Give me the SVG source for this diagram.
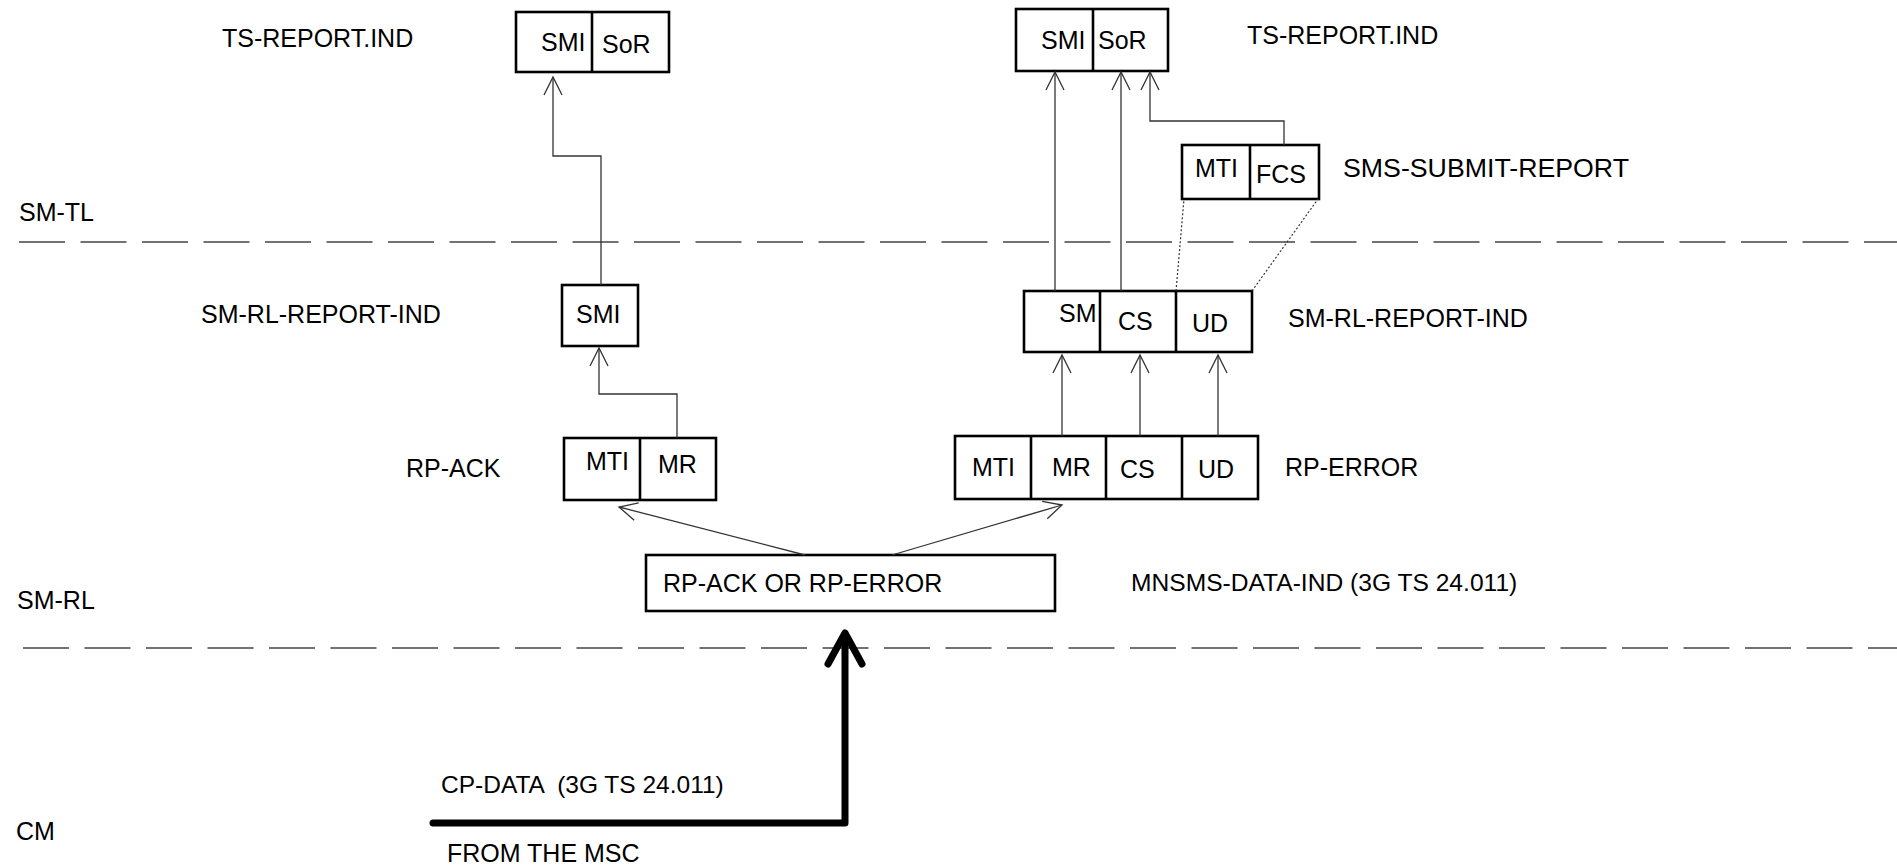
<svg xmlns="http://www.w3.org/2000/svg" width="1897" height="867" viewBox="0 0 1897 867">
<style>
text{font-family:"Liberation Sans",Arial,sans-serif;font-size:25px;fill:#000}
.box{fill:#fff;stroke:#000;stroke-width:2.6}
.div{stroke:#000;stroke-width:2.6}
.con{fill:none;stroke:#333;stroke-width:1.3}
.dot{fill:none;stroke:#333;stroke-width:1.2;stroke-dasharray:2 2}
.layer{fill:none;stroke:#444;stroke-width:1.6;stroke-dasharray:46 15.5}
.thick{fill:none;stroke:#000;stroke-width:7;stroke-linecap:round;stroke-linejoin:round}
</style>
<defs>
<marker id="ah" markerUnits="userSpaceOnUse" markerWidth="20" markerHeight="20" viewBox="0 0 20 20" refX="19" refY="10" orient="auto" overflow="visible">
<path d="M1,1 L19,10 L1,19" fill="none" stroke="#333" stroke-width="1.3"/>
</marker>
</defs>
<rect width="1897" height="867" fill="#fff"/>

<g id="layers">
<line class="layer" x1="19" y1="242" x2="1897" y2="242"/>
<line class="layer" x1="23" y1="648" x2="1897" y2="648"/>
<text x="19" y="221">SM-TL</text>
<text x="17" y="609">SM-RL</text>
<text x="16" y="840">CM</text>
</g>

<g id="labels">
<text x="222" y="47">TS-REPORT.IND</text>
<text x="1247" y="44">TS-REPORT.IND</text>
<text x="1343" y="177" textLength="286" lengthAdjust="spacingAndGlyphs">SMS-SUBMIT-REPORT</text>
<text x="201" y="323">SM-RL-REPORT-IND</text>
<text x="1288" y="327">SM-RL-REPORT-IND</text>
<text x="406" y="477">RP-ACK</text>
<text x="1285" y="476">RP-ERROR</text>
<text x="1131" y="591" style="font-size:24.6px">MNSMS-DATA-IND (3G TS 24.011)</text>
<text x="441" y="793" xml:space="preserve" style="font-size:24.5px;white-space:pre">CP-DATA  (3G TS 24.011)</text>
<text x="447" y="862">FROM THE MSC</text>
</g>

<g id="ts-left">
<rect class="box" x="516" y="12" width="153" height="60"/>
<line class="div" x1="592" y1="12" x2="592" y2="72"/>
<text x="541" y="51">SMI</text>
<text x="602" y="53">SoR</text>
</g>

<g id="ts-right">
<rect class="box" x="1016" y="9" width="152" height="62"/>
<line class="div" x1="1093" y1="9" x2="1093" y2="71"/>
<text x="1041" y="49">SMI</text>
<text x="1098" y="49">SoR</text>
</g>

<g id="sms-submit-report">
<rect class="box" x="1182" y="145" width="137" height="54"/>
<line class="div" x1="1250" y1="145" x2="1250" y2="199"/>
<text x="1195" y="177">MTI</text>
<text x="1256" y="183">FCS</text>
</g>

<g id="smrl-left">
<rect class="box" x="562" y="285" width="76" height="61"/>
<text x="576" y="323">SMI</text>
</g>

<g id="smrl-right">
<rect class="box" x="1024" y="291" width="228" height="61"/>
<line class="div" x1="1100" y1="291" x2="1100" y2="352"/>
<line class="div" x1="1176" y1="291" x2="1176" y2="352"/>
<text x="1059" y="322">SM</text>
<text x="1118" y="330">CS</text>
<text x="1192" y="332">UD</text>
</g>

<g id="rp-ack">
<rect class="box" x="564" y="438" width="152" height="62"/>
<line class="div" x1="640" y1="438" x2="640" y2="500"/>
<text x="586" y="470">MTI</text>
<text x="658" y="473">MR</text>
</g>

<g id="rp-error">
<rect class="box" x="955" y="436" width="303" height="63"/>
<line class="div" x1="1031" y1="436" x2="1031" y2="499"/>
<line class="div" x1="1106" y1="436" x2="1106" y2="499"/>
<line class="div" x1="1182" y1="436" x2="1182" y2="499"/>
<text x="972" y="476">MTI</text>
<text x="1052" y="476">MR</text>
<text x="1120" y="478">CS</text>
<text x="1198" y="478">UD</text>
</g>

<g id="mnsms">
<rect class="box" x="646" y="555" width="409" height="56"/>
<text x="663" y="592">RP-ACK OR RP-ERROR</text>
</g>

<g id="connectors">
<polyline class="con" points="601,285 601,156 553,156 553,77" marker-end="url(#ah)"/>
<polyline class="con" points="677,438 677,394 599,394 599,348" marker-end="url(#ah)"/>
<line class="con" x1="1055" y1="291" x2="1055" y2="72" marker-end="url(#ah)"/>
<line class="con" x1="1121" y1="291" x2="1121" y2="72" marker-end="url(#ah)"/>
<polyline class="con" points="1284,145 1284,121 1150,121 1150,72" marker-end="url(#ah)"/>
<line class="dot" x1="1176" y1="291" x2="1184" y2="199"/>
<line class="dot" x1="1252" y1="291" x2="1318" y2="199"/>
<line class="con" x1="1062" y1="436" x2="1062" y2="355" marker-end="url(#ah)"/>
<line class="con" x1="1140" y1="436" x2="1140" y2="355" marker-end="url(#ah)"/>
<line class="con" x1="1218" y1="436" x2="1218" y2="355" marker-end="url(#ah)"/>
<line class="con" x1="805" y1="555" x2="619" y2="507" marker-end="url(#ah)"/>
<line class="con" x1="892" y1="555" x2="1062" y2="505" marker-end="url(#ah)"/>
<path class="thick" d="M433,823 H845 V636"/>
<polyline class="thick" points="828,664 845,633 862,664"/>
</g>
</svg>
